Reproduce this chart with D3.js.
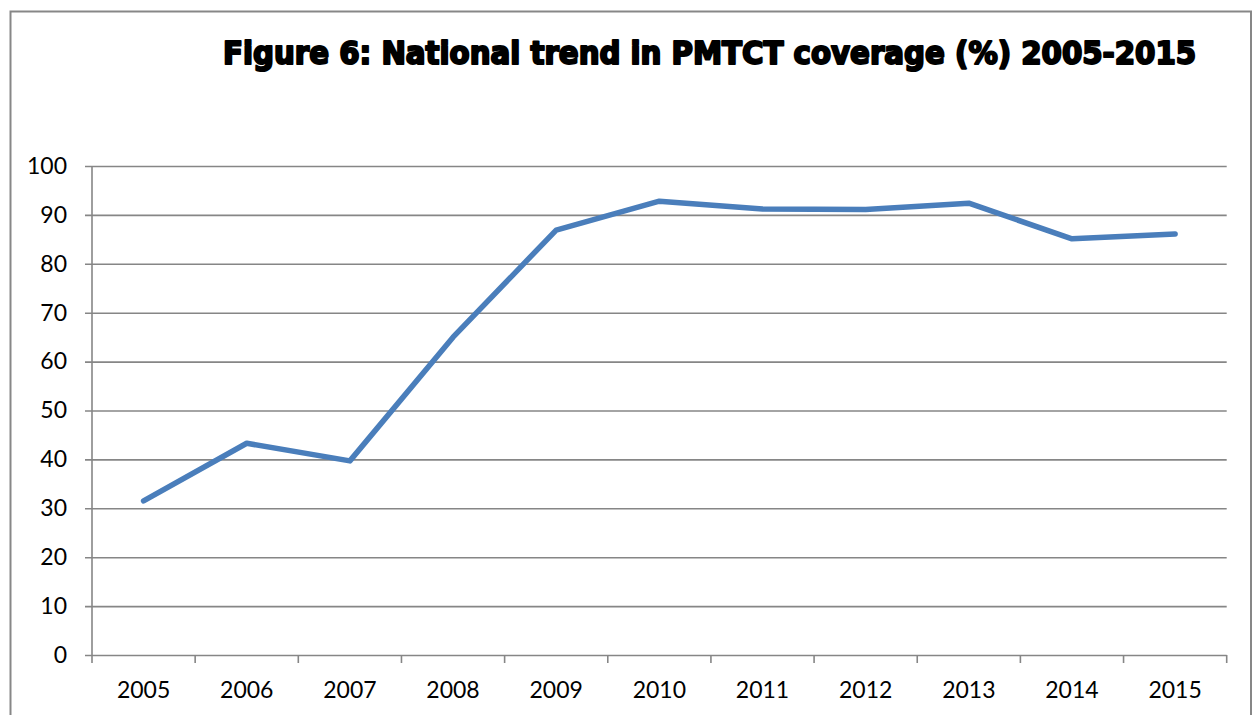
<!DOCTYPE html>
<html lang="en">
<head>
<meta charset="UTF-8">
<title>National trend in PMTCT coverage</title>
<script src="https://cdn.jsdelivr.net/npm/d3@7/dist/d3.min.js"></script>
<style>
  html, body { margin: 0; padding: 0; background: #fff; }
  svg { display: block; }
</style>
</head>
<body>
<svg id="mainsvg" width="1258" height="715"></svg>
<script>
  // data
  const years = ['2005','2006','2007','2008','2009','2010','2011','2012','2013','2014','2015'];
  const coverage = [31.5, 43.3, 39.7, 65.0, 86.9, 92.8, 91.2, 91.1, 92.4, 85.1, 86.1];
  const yTicks = [0, 10, 20, 30, 40, 50, 60, 70, 80, 90, 100];
  const titleText = 'Figure 6: National trend in PMTCT coverage (%) 2005-2015';

  const svg = d3.select('#mainsvg');
  const margin = {top: 166, right: 31, bottom: 60, left: 92};
  const innerW = 1226.7 - margin.left;
  const innerH = 655 - margin.top;
  const gridColor = '#868686';

  // outer frame
  svg.append('rect')
    .attr('x', 10.5).attr('y', 11.5)
    .attr('width', 1240.5).attr('height', 720)
    .attr('fill', 'none')
    .attr('stroke', '#878787')
    .attr('stroke-width', 2);

  // title - heavy display face, faked with a stroke
  svg.append('text')
    .attr('x', 223).attr('y', 64)
    .style('font-family', '"DejaVu Sans Condensed", "DejaVu Sans", sans-serif')
    .style('font-stretch', 'condensed')
    .style('font-weight', 'bold')
    .style('font-size', '32.5px')
    .attr('fill', '#000')
    .attr('stroke', '#000')
    .attr('stroke-width', 2)
    .attr('stroke-linejoin', 'round')
    .text(titleText);

  const g = svg.append('g').attr('transform', `translate(${margin.left},${margin.top})`);

  const x = d3.scaleBand().domain(years).range([0, innerW]);
  const y = d3.scaleLinear().domain([0, 100]).range([innerH, 0]);

  // gridlines + y ticks
  const yAxis = g.append('g')
    .call(d3.axisLeft(y).tickValues(yTicks).tickSize(-innerW).tickPadding(25).tickSizeOuter(0));
  yAxis.select('.domain').remove();
  yAxis.selectAll('.tick line')
    .attr('x1', -7)
    .attr('stroke', gridColor)
    .attr('stroke-width', 1.6);
  yAxis.selectAll('.tick text')
    .style('font-family', 'Lato, "Open Sans", sans-serif')
    .style('font-size', '23px')
    .attr('fill', '#000');

  // y axis line
  g.append('line')
    .attr('x1', 0).attr('x2', 0)
    .attr('y1', 0).attr('y2', innerH)
    .attr('stroke', gridColor).attr('stroke-width', 1.6);

  // x axis with ticks on band boundaries
  const xAxis = g.append('g').attr('transform', `translate(0,${innerH})`)
    .call(d3.axisBottom(x).tickSize(0).tickPadding(27));
  xAxis.select('.domain').remove();
  xAxis.selectAll('.tick text')
    .style('font-family', 'Lato, "Open Sans", sans-serif')
    .style('font-size', '23px')
    .attr('fill', '#000');
  const bounds = years.map(d => x(d)).concat([innerW]);
  g.append('g').selectAll('line').data(bounds).join('line')
    .attr('x1', d => d).attr('x2', d => d)
    .attr('y1', innerH).attr('y2', innerH + 8)
    .attr('stroke', gridColor).attr('stroke-width', 1.6);

  // the series
  const line = d3.line()
    .x((d, i) => x(years[i]) + x.bandwidth() / 2)
    .y(d => y(d));
  g.append('path')
    .datum(coverage)
    .attr('d', line)
    .attr('fill', 'none')
    .attr('stroke', '#4a7ebb')
    .attr('stroke-width', 5.5)
    .attr('stroke-linejoin', 'round')
    .attr('stroke-linecap', 'round');
</script>
</body>
</html>
